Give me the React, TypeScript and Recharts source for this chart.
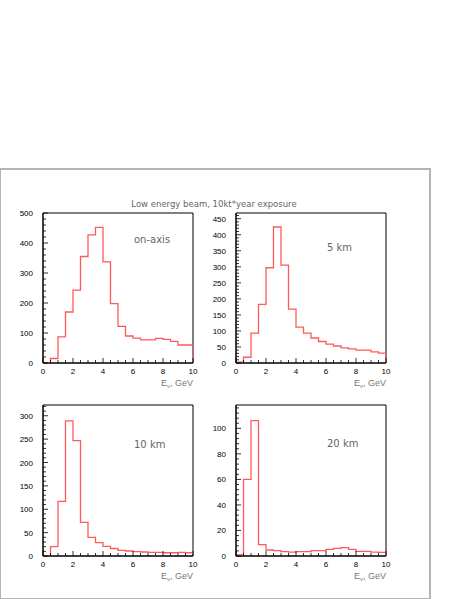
import React from "react";
import { LineChart, Line, XAxis, YAxis, ReferenceArea } from "recharts";

// Bin edges (GeV), 0.5 GeV bins
const EDGES = [0, 0.5, 1, 1.5, 2, 2.5, 3, 3.5, 4, 4.5, 5, 5.5, 6, 6.5, 7, 7.5, 8, 8.5, 9, 9.5, 10];

// Event counts per bin
const ON_AXIS = [1, 15, 87, 170, 243, 355, 427, 452, 337, 198, 122, 90, 83, 77, 77, 82, 79, 72, 60, 60];
const KM5 = [3, 18, 93, 183, 297, 424, 305, 168, 112, 93, 78, 67, 59, 53, 47, 44, 40, 40, 35, 31];
const KM10 = [1, 20, 117, 289, 247, 72, 40, 28.5, 20.5, 16, 12, 10.7, 9.3, 8.6, 7.9, 7.9, 7, 7, 7.9, 7];
const KM20 = [0.8, 60, 106, 8.9, 4.7, 4.2, 3.4, 3.1, 3.4, 3.4, 4.2, 4.2, 5.2, 6, 6.5, 5.2, 3.7, 3.7, 3.1, 2.9];

const X_TICKS = EDGES;
const X_LABELS = [0, 2, 4, 6, 8, 10];

const TITLE = "Low energy beam, 10kt*year exposure";
const LABELS = ["on-axis", "5 km", "10 km", "20 km"];

const range = (a: number, b: number, s: number) => {
  const out: number[] = [];
  for (let v = a; v <= b + 1e-9; v += s) out.push(Math.round(v * 1000) / 1000);
  return out;
};

const buildData = (vals: number[]) => {
  const d: { x: number; y: number }[] = [{ x: EDGES[0], y: 0 }];
  vals.forEach((v, i) => d.push({ x: EDGES[i], y: v }));
  d.push({ x: EDGES[EDGES.length - 1], y: vals[vals.length - 1] });
  d.push({ x: EDGES[EDGES.length - 1], y: 0 });
  return d;
};

const TICK_FONT = "'Liberation Sans', Arial, sans-serif";
const M = 8;

const XTick = (props: any) => {
  const { x, y, payload } = props;
  const v = payload.value;
  const major = X_LABELS.includes(v);
  const ay = y - M;
  return (
    <g>
      <line x1={x} x2={x} y1={ay} y2={ay - (major ? 5 : 3)} stroke="#000" strokeWidth={0.8} />
      {major && (
        <text x={x} y={ay + 11} textAnchor="middle" fontSize={8} fontFamily={TICK_FONT} fill="#000">
          {v}
        </text>
      )}
    </g>
  );
};

const makeYTick = (majorStep: number) => (props: any) => {
  const { x, y, payload } = props;
  const v = payload.value;
  const major = Math.abs(v / majorStep - Math.round(v / majorStep)) < 1e-6;
  const ax = x + M;
  return (
    <g>
      <line x1={ax} x2={ax + (major ? 5 : 3)} y1={y} y2={y} stroke="#000" strokeWidth={0.8} />
      {major && (
        <text x={ax - 10} y={y + 3} textAnchor="end" fontSize={8} fontFamily={TICK_FONT} fill="#000">
          {v}
        </text>
      )}
    </g>
  );
};

const XLabel = (props: any) => {
  const vb = props.viewBox || {};
  return (
    <text
      x={vb.x + vb.width}
      y={vb.y + 23}
      textAnchor="end"
      fontSize={9}
      fontFamily={TICK_FONT}
      fill="#777"
    >
      <tspan>E</tspan>
      <tspan dy={2} fontSize={6}>ν</tspan>
      <tspan dy={-2}>, GeV</tspan>
    </text>
  );
};

type PanelProps = {
  plotLeft: number;
  plotTop: number;
  plotH: number;
  values: number[];
  yMax: number;
  yMajor: number;
  yMinor: number;
};

const Panel = ({ plotLeft, plotTop, plotH, values, yMax, yMajor, yMinor }: PanelProps) => {
  const ml = 43;
  const mt = 13;
  const mr = 17;
  const xh = 27;
  const w = ml + 150 + mr;
  const h = mt + plotH + xh;
  const data = buildData(values);
  const yTicks = range(0, yMax, yMinor);
  return (
    <div style={{ position: "absolute", left: plotLeft - ml, top: plotTop - mt }}>
      <LineChart width={w} height={h} data={data} margin={{ top: mt, right: mr, left: 0, bottom: 0 }}>
        <XAxis
          dataKey="x"
          type="number"
          domain={[0, 10]}
          ticks={X_TICKS}
          interval={0}
          tickSize={0}
          tickMargin={M}
          tick={<XTick />}
          height={xh}
          stroke="#000"
          allowDataOverflow
          label={<XLabel />}
        />
        <YAxis
          type="number"
          domain={[0, yMax]}
          ticks={yTicks}
          interval={0}
          tickSize={0}
          tickMargin={M}
          tick={makeYTick(yMajor)}
          width={ml}
          stroke="#000"
          allowDataOverflow
        />
        <ReferenceArea x1={0} x2={10} y1={0} y2={yMax} fill="none" stroke="#000" strokeWidth={1} ifOverflow="visible" />
        <Line
          type="stepAfter"
          dataKey="y"
          stroke="#ff5a5a"
          strokeWidth={1.3}
          dot={false}
          isAnimationActive={false}
        />
      </LineChart>
    </div>
  );
};

const textStyle: React.CSSProperties = {
  position: "absolute",
  fontFamily: "'DejaVu Sans', 'Liberation Sans', sans-serif",
  color: "#666",
  whiteSpace: "nowrap",
  lineHeight: 1,
};

export default function App() {
  return (
    <div style={{ position: "absolute", left: 0, top: 0, width: 463, height: 599, background: "#fff", overflow: "hidden" }}>
      <div
        style={{
          position: "absolute",
          left: -1,
          top: 168,
          width: 428,
          height: 428,
          border: "2px solid #b4b4b4",
        }}
      />
      <div style={{ ...textStyle, left: 0, width: 428, top: 200, textAlign: "center", fontSize: 8.5 }}>{TITLE}</div>
      <Panel plotLeft={43} plotTop={213} plotH={150} values={ON_AXIS} yMax={500} yMajor={100} yMinor={20} />
      <Panel plotLeft={236} plotTop={213} plotH={150} values={KM5} yMax={467.7} yMajor={50} yMinor={10} />
      <Panel plotLeft={43} plotTop={405} plotH={151} values={KM10} yMax={323} yMajor={50} yMinor={10} />
      <Panel plotLeft={236} plotTop={405} plotH={151} values={KM20} yMax={118.3} yMajor={20} yMinor={4} />
      <div style={{ ...textStyle, left: 134, top: 235, fontSize: 10 }}>{LABELS[0]}</div>
      <div style={{ ...textStyle, left: 327, top: 243, fontSize: 10 }}>{LABELS[1]}</div>
      <div style={{ ...textStyle, left: 134, top: 440, fontSize: 10 }}>{LABELS[2]}</div>
      <div style={{ ...textStyle, left: 327, top: 439, fontSize: 10 }}>{LABELS[3]}</div>
    </div>
  );
}
